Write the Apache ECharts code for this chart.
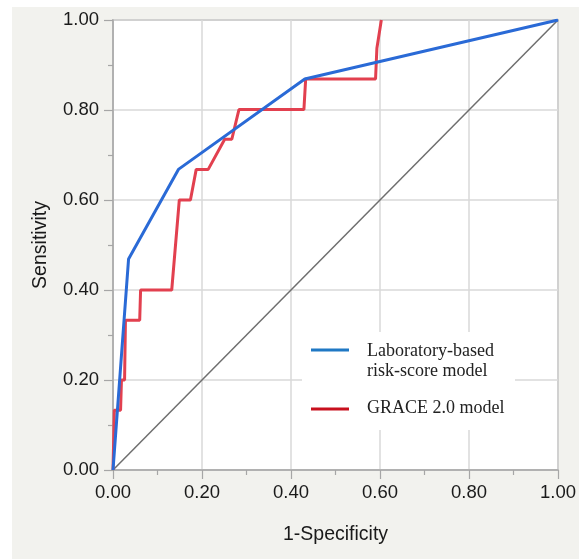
<!DOCTYPE html>
<html>
<head>
<meta charset="utf-8">
<script src="https://cdn.jsdelivr.net/npm/echarts@6/dist/echarts.min.js"></script>
<style>
html,body{margin:0;padding:0;background:#ffffff;}
#wrap{position:relative;width:579px;height:559px;}
#bg{position:absolute;left:12px;top:7px;right:0;bottom:0;background:#f2f2ee;}
#chart{position:absolute;left:0;top:0;width:579px;height:559px;}
</style>
</head>
<body>
<div id="wrap"><div id="bg"></div><div id="chart"></div></div>
<script>
// Axis ticks
var axisTicks = [0, 0.2, 0.4, 0.6, 0.8, 1.0];

// Laboratory-based risk-score model ROC
var labFpr = [0, 0.035, 0.147, 0.431, 1.0];
var labTpr = [0, 0.469, 0.668, 0.869, 1.0];

// GRACE 2.0 model ROC
var graceFpr = [0, 0.003, 0.017, 0.019, 0.026, 0.028, 0.060, 0.062, 0.132, 0.149, 0.174, 0.187, 0.214, 0.251, 0.267, 0.283, 0.429, 0.433, 0.590, 0.593, 0.603];
var graceTpr = [0, 0.133, 0.133, 0.200, 0.200, 0.333, 0.333, 0.400, 0.400, 0.600, 0.600, 0.668, 0.668, 0.735, 0.735, 0.801, 0.801, 0.869, 0.869, 0.937, 1.000];

// Reference diagonal
var diagX = [0, 1];
var diagY = [0, 1];

var seriesNames = ['Laboratory-based\nrisk-score model', 'GRACE 2.0 model'];

function zip(a, b) { return a.map(function (v, i) { return [v, b[i]]; }); }

var chart = echarts.init(document.getElementById('chart'), null, {renderer: 'canvas'});

var axisCommon = {
  type: 'value', min: 0, max: 1, interval: 0.2,
  axisLine: {show: true, lineStyle: {color: '#a6a6a6', width: 1.5}},
  axisTick: {show: true, inside: false, length: 9, lineStyle: {color: '#a6a6a6', width: 1.2}},
  minorTick: {show: true, splitNumber: 2, length: 5, lineStyle: {color: '#a6a6a6', width: 1.2}},
  splitLine: {show: true, lineStyle: {color: '#d9d9d9', width: 1.5}},
  axisLabel: {color: '#1a1a1a', fontFamily: 'Liberation Sans, Arial, sans-serif', fontSize: 18.5,
    formatter: function (v) { return v.toFixed(2); }},
  nameTextStyle: {color: '#1a1a1a', fontFamily: 'Liberation Sans, Arial, sans-serif', fontSize: 19.5},
  nameLocation: 'middle'
};

var option = {
  animation: false,
  backgroundColor: 'transparent',
  grid: {left: 113, top: 20, right: 15, bottom: 89, show: true, backgroundColor: '#ffffff', borderColor: '#a6a6a6', borderWidth: 1.5},
  xAxis: Object.assign({}, axisCommon, {
    name: '1-Specificity', nameGap: 55,
    axisLabel: Object.assign({}, axisCommon.axisLabel, {margin: 13})
  }),
  yAxis: Object.assign({}, axisCommon, {
    name: 'Sensitivity', nameGap: 62,
    axisLabel: Object.assign({}, axisCommon.axisLabel, {margin: 14})
  }),
  series: [
    {
      name: 'diag', type: 'line', data: zip(diagX, diagY), symbol: 'none', silent: true,
      lineStyle: {color: '#6e6e6e', width: 1.5}, z: 1
    },
    {
      name: seriesNames[0], type: 'line', data: zip(labFpr, labTpr), symbol: 'none',
      lineStyle: {color: '#2a6ad6', width: 3}, z: 3
    },
    {
      name: seriesNames[1], type: 'line', data: zip(graceFpr, graceTpr), symbol: 'none',
      lineStyle: {color: '#e2404f', width: 3}, z: 2
    }
  ],
  graphic: [
    {type: 'rect', left: 302, top: 332, shape: {width: 213, height: 98}, style: {fill: '#ffffff'}, z: 5},
    {type: 'line', shape: {x1: 311, y1: 350, x2: 349, y2: 350}, style: {stroke: '#1f78c4', lineWidth: 3}, z: 6},
    {type: 'line', shape: {x1: 311, y1: 409, x2: 349, y2: 409}, style: {stroke: '#c8101e', lineWidth: 3}, z: 6},
    {type: 'text', left: 367, top: 341, z: 6, style: {text: seriesNames[0], fill: '#222222', font: '18px "Liberation Serif", "Times New Roman", serif', lineHeight: 20}},
    {type: 'text', left: 367, top: 398, z: 6, style: {text: seriesNames[1], fill: '#222222', font: '18px "Liberation Serif", "Times New Roman", serif', lineHeight: 20}}
  ]
};
chart.setOption(option);
</script>
</body>
</html>
